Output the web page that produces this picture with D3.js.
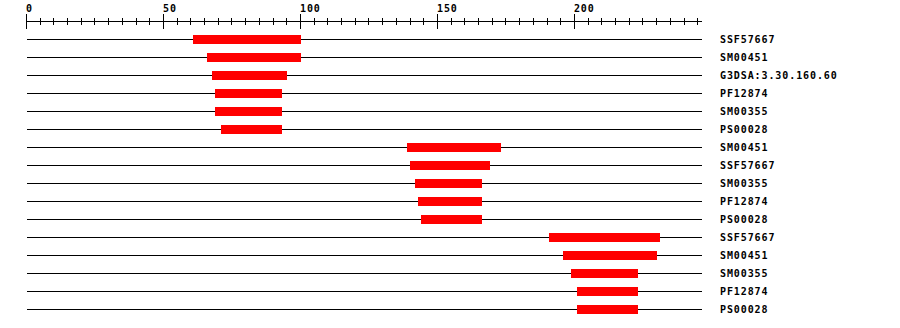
<!DOCTYPE html>
<html>
<head>
<meta charset="utf-8">
<script src="https://cdn.jsdelivr.net/npm/d3@7"></script>
<style>
  html, body { margin: 0; padding: 0; background: #fff; }
  svg { display: block; }
  text { font-family: "DejaVu Sans Mono", monospace; font-weight: bold; font-size: 10px; letter-spacing: 0.9px; fill: #000; }
</style>
</head>
<body>
<div id="chart"></div>
<script>
// Domain hits per sequence position
const labels = ["SSF57667", "SM00451", "G3DSA:3.30.160.60", "PF12874", "SM00355", "PS00028",
                "SM00451", "SSF57667", "SM00355", "PF12874", "PS00028",
                "SSF57667", "SM00451", "SM00355", "PF12874", "PS00028"];
const starts = [61, 66, 68, 69, 69, 71, 139, 140, 142, 143, 144, 191, 196, 199, 201, 201];
const ends   = [100, 100, 95, 93, 93, 93, 173, 169, 166, 166, 166, 231, 230, 223, 223, 223];
const majorTicks = [0, 50, 100, 150, 200];
const seqLength = 246;

const width = 900, height = 328;

const svg = d3.select("#chart")
    .append("svg")
    .attr("width", width)
    .attr("height", height);

const x = d3.scaleLinear()
    .domain([0, seqLength])
    .range([26.5, 700.5]);

const y = d3.scaleBand()
    .domain(d3.range(labels.length))
    .range([30, 30 + 18 * labels.length]);

const axisY = 21.5;

// ruler
const ruler = svg.append("g").attr("shape-rendering", "crispEdges");
ruler.append("line")
    .attr("x1", x(0)).attr("x2", x(seqLength) + 1)
    .attr("y1", axisY).attr("y2", axisY)
    .attr("stroke", "#000");

ruler.selectAll("line.minor")
    .data(d3.range(0, seqLength, 5).filter(v => !majorTicks.includes(v)))
    .join("line")
    .attr("class", "minor")
    .attr("x1", d => x(d)).attr("x2", d => x(d))
    .attr("y1", axisY - 3.5).attr("y2", axisY + 3.5)
    .attr("stroke", "#000");

ruler.selectAll("line.major")
    .data(majorTicks)
    .join("line")
    .attr("class", "major")
    .attr("x1", d => x(d)).attr("x2", d => x(d))
    .attr("y1", axisY - 7.5).attr("y2", axisY + 7.5)
    .attr("stroke", "#000");

svg.selectAll("text.tick")
    .data(majorTicks)
    .join("text")
    .attr("class", "tick")
    .attr("x", d => x(d) - 0.5)
    .attr("y", 12)
    .text(d => d);

// rows
const rows = svg.append("g");
const mid = i => y(i) + y.bandwidth() / 2 + 0.5;

rows.selectAll("line")
    .data(labels)
    .join("line")
    .attr("x1", x(0)).attr("x2", x(seqLength) + 1)
    .attr("y1", (d, i) => mid(i)).attr("y2", (d, i) => mid(i))
    .attr("stroke", "#000")
    .attr("shape-rendering", "crispEdges");

// bars cover the pixel of both end positions
rows.selectAll("rect")
    .data(labels)
    .join("rect")
    .attr("x", (d, i) => x(starts[i]) - 0.5)
    .attr("width", (d, i) => x(ends[i]) - x(starts[i]) + 1)
    .attr("y", (d, i) => mid(i) - 4.5)
    .attr("height", 9)
    .attr("fill", "#ff0000")
    .attr("shape-rendering", "crispEdges");

rows.selectAll("text")
    .data(labels)
    .join("text")
    .attr("x", 720)
    .attr("y", (d, i) => mid(i) + 3.5)
    .text(d => d);
</script>
</body>
</html>
